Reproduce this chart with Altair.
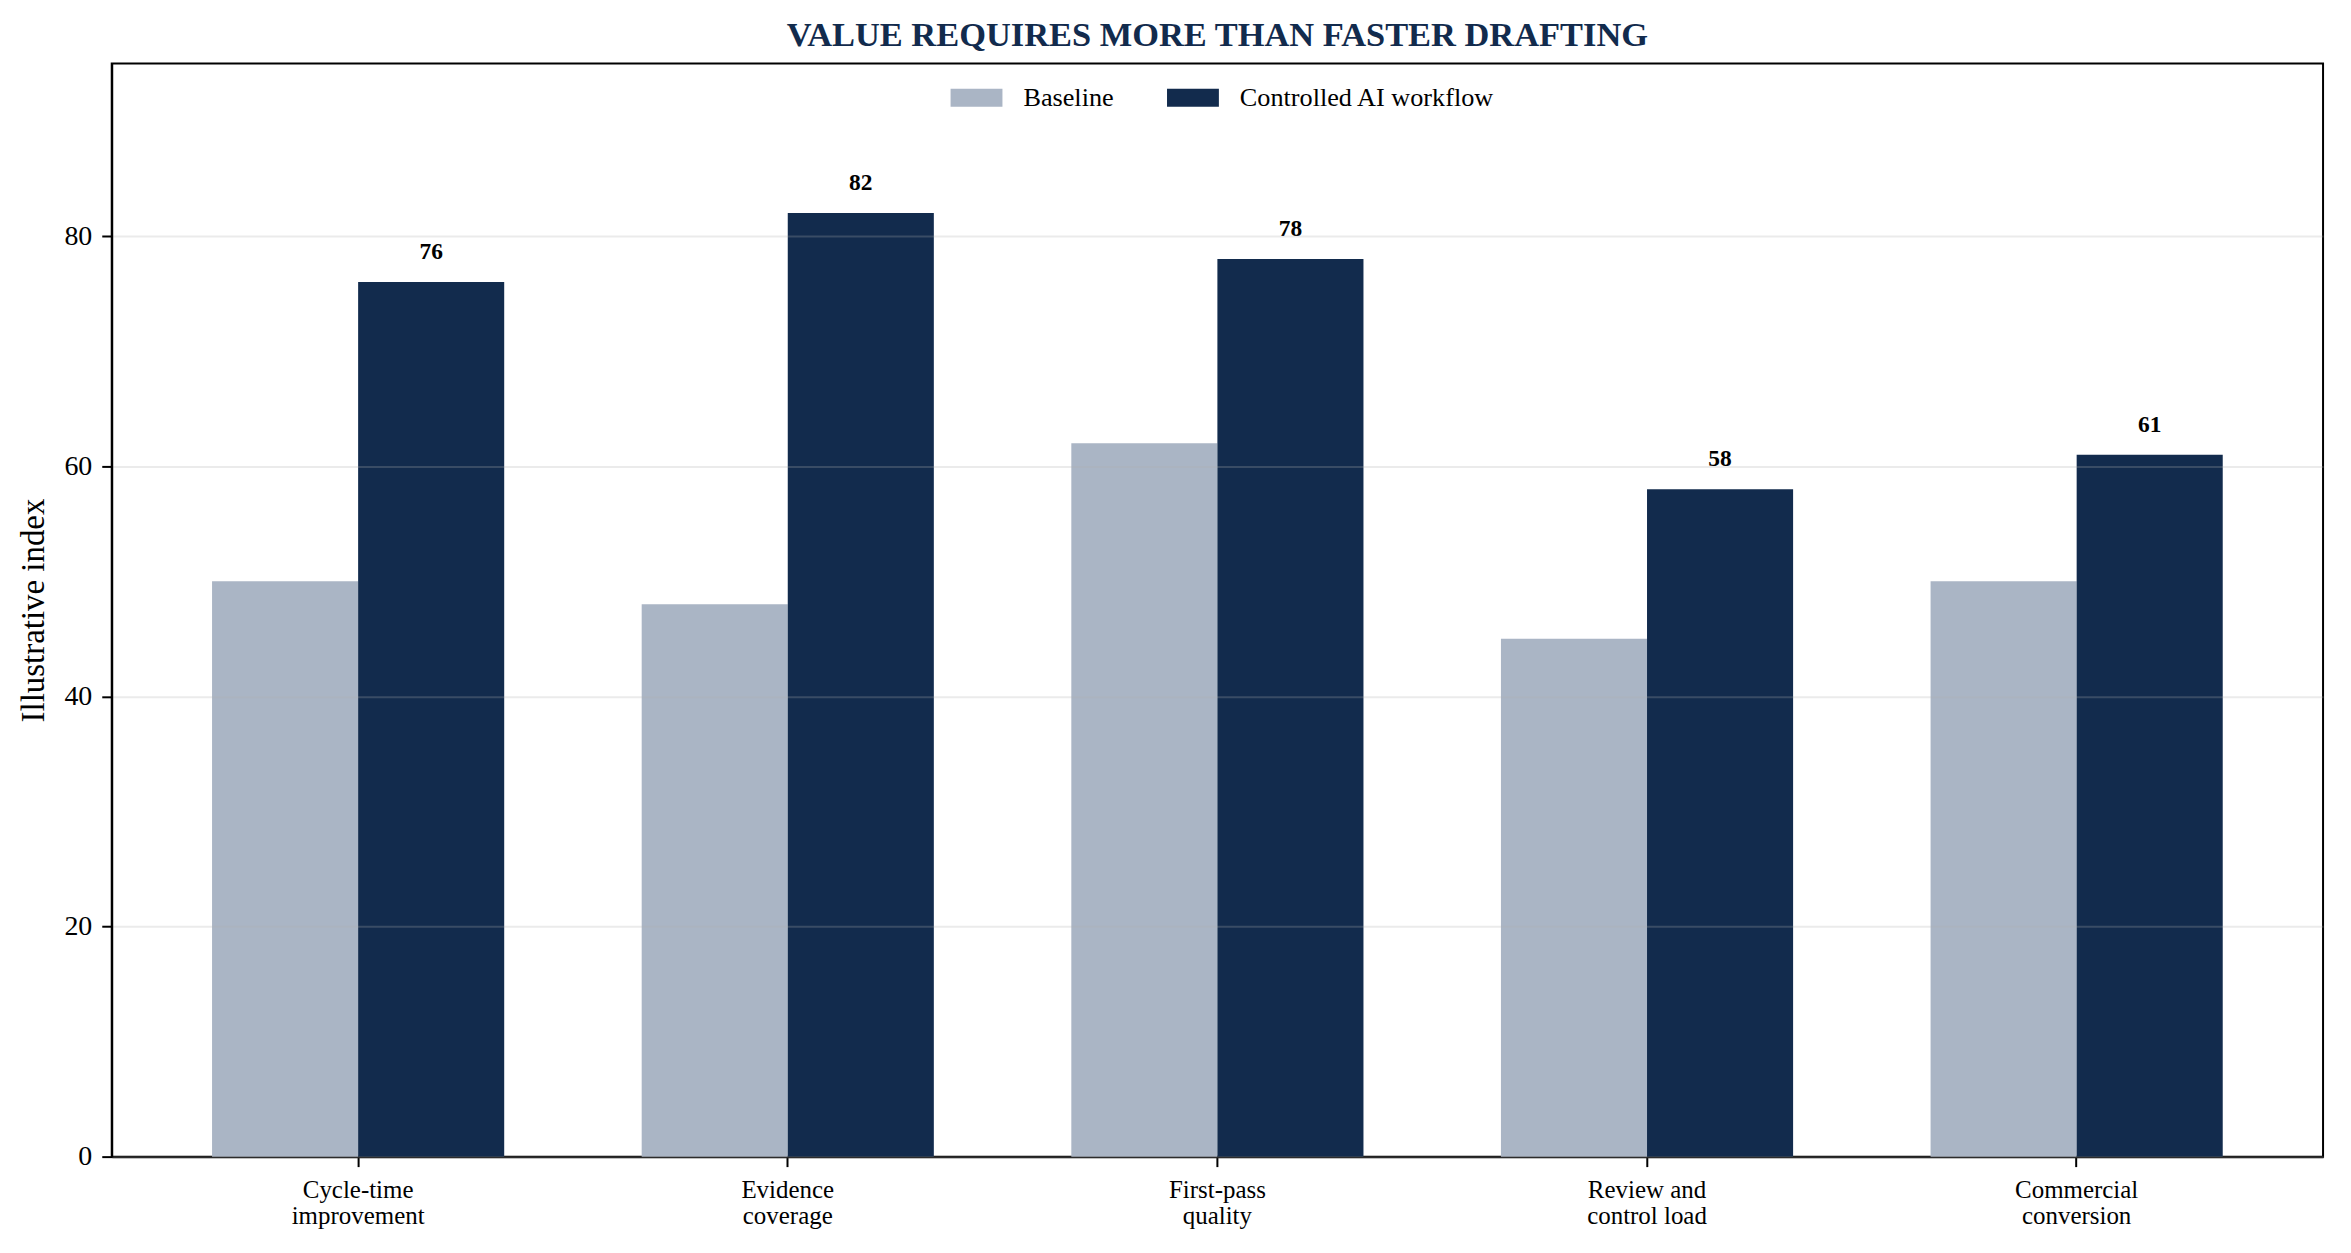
import altair as alt
import pandas as pd

categories = [
    "Cycle-time\nimprovement",
    "Evidence\ncoverage",
    "First-pass\nquality",
    "Review and\ncontrol load",
    "Commercial\nconversion",
]
series_names = ["Baseline", "Controlled AI workflow"]
baseline_values = [50, 48, 62, 45, 50]
controlled_values = [76, 82, 78, 58, 61]
y_ticks = [0, 20, 40, 60, 80]
colors = ["#AAB5C5", "#122B4D"]

rows = []
for c, b, v in zip(categories, baseline_values, controlled_values):
    rows.append({"category": c, "series": series_names[0], "value": b})
    rows.append({"category": c, "series": series_names[1], "value": v})
df = pd.DataFrame(rows)

FONT = "Liberation Serif"

x_enc = alt.X(
    "category:N",
    sort=categories,
    scale=alt.Scale(paddingInner=0.32, paddingOuter=0.2335),
    axis=alt.Axis(
        title=None,
        labelAngle=0,
        labelExpr="split(datum.label, '\\n')",
        labelFont=FONT,
        labelFontSize=25,
        labelColor="black",
        labelLineHeight=26,
        labelPadding=11,
        labelLimit=0,
        tickSize=10,
        tickWidth=2,
        tickColor="black",
        domainColor="black",
        domainWidth=2,
        grid=False,
    ),
)
xoff_enc = alt.XOffset(
    "series:N",
    scale=alt.Scale(domain=series_names, paddingInner=0, paddingOuter=0),
)
y_enc = alt.Y(
    "value:Q",
    scale=alt.Scale(domain=[0, 95], nice=False),
    axis=alt.Axis(
        title="Illustrative index",
        titleFont=FONT,
        titleFontSize=33,
        titleFontWeight="normal",
        titleColor="black",
        titlePadding=13,
        values=y_ticks,
        labelFont=FONT,
        labelFontSize=28,
        labelColor="black",
        labelPadding=10,
        tickSize=10,
        tickWidth=2,
        tickColor="black",
        domainColor="black",
        domainWidth=2,
        grid=True,
        gridColor="#b0b0b0",
        gridOpacity=0.25,
        gridWidth=2,
        zindex=1,
    ),
)

bars = alt.Chart(df).mark_bar(stroke=None).encode(
    x=x_enc,
    xOffset=xoff_enc,
    y=y_enc,
    color=alt.Color(
        "series:N",
        scale=alt.Scale(domain=series_names, range=colors),
        legend=alt.Legend(
            title=None,
            orient="none",
            direction="horizontal",
            legendX=841,
            legendY=8,
            symbolType="M-1,-0.346H1V0.346H-1Z",
            symbolSize=2704,
            symbolStrokeWidth=0,
            symbolOpacity=1,
            labelFont=FONT,
            labelFontSize=26.3,
            labelColor="black",
            labelOffset=21,
            labelLimit=0,
            columnPadding=53,
            padding=0,
        ),
    ),
)

labels = (
    alt.Chart(df)
    .transform_filter(alt.datum.series == series_names[1])
    .mark_text(
        font=FONT,
        fontSize=23.5,
        fontWeight="bold",
        color="black",
        baseline="alphabetic",
        align="center",
        dy=-23,
    )
    .encode(
        x=alt.X("category:N", sort=categories),
        xOffset=alt.XOffset("series:N"),
        y=alt.Y("value:Q"),
        text=alt.Text("value:Q"),
    )
)

chart = (
    alt.layer(bars, labels)
    .properties(
        width=2217,
        height=1096,
        background="white",
        title=alt.TitleParams(
            "VALUE REQUIRES MORE THAN FASTER DRAFTING",
            font=FONT,
            fontSize=34.5,
            fontWeight="bold",
            color="#122B4D",
            anchor="middle",
            offset=10,
        ),
        autosize=alt.AutoSizeParams(type="none"),
        padding={"left": 104, "top": 54, "right": 20, "bottom": 80},
    )
    .configure_view(stroke="black", strokeWidth=2)
)

chart.save("out.html", embed_options={"renderer": "svg", "actions": False})
